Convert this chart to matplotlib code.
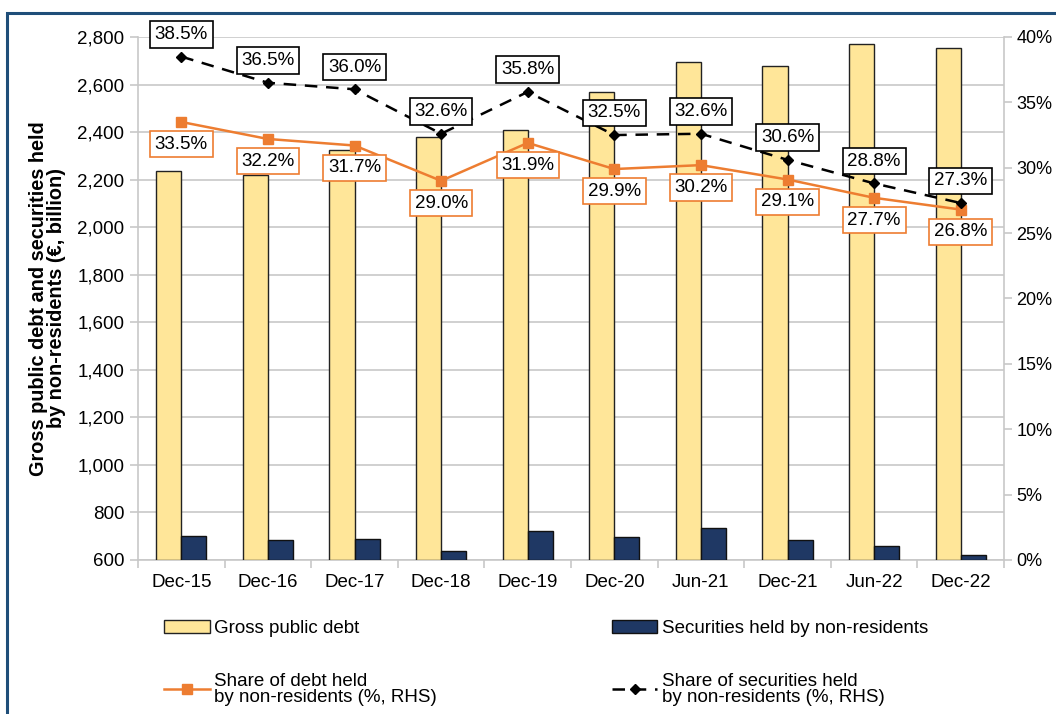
import numpy as np
import matplotlib
matplotlib.use("Agg")
import matplotlib.pyplot as plt
from matplotlib.patches import Rectangle
from matplotlib.ticker import FuncFormatter, MultipleLocator

plt.rcParams["font.family"] = ["Liberation Sans", "DejaVu Sans"]

periods = ["Dec-15", "Dec-16", "Dec-17", "Dec-18", "Dec-19",
           "Dec-20", "Jun-21", "Dec-21", "Jun-22", "Dec-22"]
gross_debt = [2236, 2220, 2325, 2380, 2409, 2570, 2695, 2676, 2771, 2755]
securities_nonres = [702, 682, 687, 638, 720, 698, 736, 682, 657, 621]
share_debt = [33.5, 32.2, 31.7, 29.0, 31.9, 29.9, 30.2, 29.1, 27.7, 26.8]
share_securities = [38.5, 36.5, 36.0, 32.6, 35.8, 32.5, 32.6, 30.6, 28.8, 27.3]

YELLOW = "#FFE699"
NAVY = "#1F3864"
ORANGE = "#ED7D31"
GRID = "#C8C8C8"
FS = 13.5

fig = plt.figure(figsize=(10.56, 7.14), dpi=100)
ax = fig.add_axes([0.1307, 0.2157, 0.8201, 0.7325])
ax2 = ax.twinx()

x = np.arange(len(periods))
w = 0.29
b1 = ax.bar(x - w / 2, np.array(gross_debt) - 600, w, bottom=600,
            color=YELLOW, edgecolor="#222222", linewidth=1.0,
            label="Gross public debt", zorder=3)
b2 = ax.bar(x + w / 2, np.array(securities_nonres) - 600, w, bottom=600,
            color=NAVY, edgecolor="#111111", linewidth=1.0,
            label="Securities held by non-residents", zorder=3)

ax.set_xlim(-0.5, len(periods) - 0.5)
ax.set_ylim(600, 2800)
ax.yaxis.set_major_locator(MultipleLocator(200))
ax.yaxis.set_major_formatter(FuncFormatter(lambda v, p: f"{v:,.0f}"))
ax.yaxis.grid(True, color=GRID, linewidth=1.2, zorder=0)
ax.set_axisbelow(True)
ax.set_xticks(x)
ax.set_xticklabels(periods)
ax.set_xticks(np.arange(len(periods) + 1) - 0.5, minor=True)
ax.tick_params(axis="x", which="major", length=0, labelsize=FS, pad=10)
ax.tick_params(axis="x", which="minor", length=6, color=GRID, width=1.2)
ax.tick_params(axis="y", length=6, color=GRID, width=1.2, labelsize=FS, pad=4)
for s in ["top", "right"]:
    ax.spines[s].set_visible(False)
for s in ["left", "bottom"]:
    ax.spines[s].set_color(GRID)
    ax.spines[s].set_linewidth(1.2)
ax.set_ylabel("Gross public debt and securities held\nby non-residents (€, billion)",
              fontsize=14.3, fontweight="bold", labelpad=8, linespacing=0.9)

l1, = ax2.plot(x, share_debt, color=ORANGE, linewidth=1.8, marker="s",
               markersize=7.5, label="Share of debt held\nby non-residents (%, RHS)",
               zorder=4)
l2, = ax2.plot(x, share_securities, color="black", linewidth=1.8,
               linestyle=(0, (5, 3.5)), marker="D", markersize=5.5,
               label="Share of securities held\nby non-residents (%, RHS)", zorder=5)
ax2.set_ylim(0, 40)
ax2.yaxis.set_major_locator(MultipleLocator(5))
ax2.yaxis.set_major_formatter(FuncFormatter(lambda v, p: f"{v:.0f}%"))
ax2.tick_params(axis="y", length=6, color=GRID, width=1.2, labelsize=13, pad=3)
for s in ["top", "left", "bottom"]:
    ax2.spines[s].set_visible(False)
ax2.spines["right"].set_color(GRID)
ax2.spines["right"].set_linewidth(1.2)

for xi, v in zip(x, share_securities):
    ax2.annotate(f"{v:.1f}%", (xi, v), xytext=(0, 16), textcoords="offset points",
                 ha="center", va="center", fontsize=FS, zorder=6,
                 bbox=dict(boxstyle="square,pad=0.25", fc="white", ec="black", lw=1.2))
for xi, v in zip(x, share_debt):
    ax2.annotate(f"{v:.1f}%", (xi, v), xytext=(0, -16), textcoords="offset points",
                 ha="center", va="center", fontsize=FS, zorder=6,
                 bbox=dict(boxstyle="square,pad=0.25", fc="white", ec=ORANGE, lw=1.2))

fig.legend([b1, l1, b2, l2],
           [b1.get_label(), l1.get_label(), b2.get_label(), l2.get_label()],
           ncol=2, loc="upper left", bbox_to_anchor=(0.148, 0.142),
           frameon=False, fontsize=FS, handlelength=2.45, handletextpad=0.25,
           columnspacing=9.3, labelspacing=1.9, borderaxespad=0)
for t in fig.legends[0].get_texts():
    t.set_linespacing(0.95)

# outer frame
fig.add_artist(Rectangle((7 / 1056, -0.05), 1.2, 1 - 13 / 714 + 0.05,
                         transform=fig.transFigure, fill=False,
                         edgecolor="#1F4E79", linewidth=2.2))

fig.savefig("out.png", dpi=100)
